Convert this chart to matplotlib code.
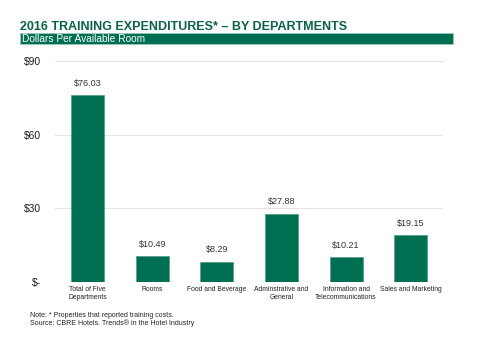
import matplotlib.pyplot as plt
from matplotlib.patches import Rectangle

plt.rcParams["font.family"] = ["Liberation Sans", "DejaVu Sans"]

# data
categories = ["Total of Five\nDepartments", "Rooms", "Food and Beverage",
              "Adminstrative and\nGeneral", "Information and\nTelecommunications",
              "Sales and Marketing"]
values = [76.03, 10.49, 8.29, 27.88, 10.21, 19.15]
yticks = [0, 30, 60, 90]
ytick_labels = ["$-", "$30", "$60", "$90"]

green = "#006f51"
title_green = "#0b6148"

fig = plt.figure(figsize=(4.8, 3.57), dpi=100)
fig.patch.set_facecolor("white")

# title and green band
fig.text(0.042, 0.917, "2016 TRAINING EXPENDITURES* \u2013 BY DEPARTMENTS",
         fontsize=9.0, fontweight="bold", color=title_green, ha="left", va="baseline")
fig.patches.append(Rectangle((0.042, 0.876), 0.902, 0.032, transform=fig.transFigure,
                             facecolor=green, edgecolor="#9fcfbf", linewidth=0.5))
fig.text(0.046, 0.881, "Dollars Per Available Room", fontsize=7.3, color="white",
         ha="left", va="baseline")

ax = fig.add_axes([0.115, 0.21, 0.808, 0.619])
x = range(len(categories))
bars = ax.bar(x, values, width=0.51, color=green, edgecolor="#4f9c82", linewidth=0.5, zorder=3)
for xi, v in zip(x, values):
    ax.text(xi, v + 3, f"${v:.2f}", ha="center", va="bottom", fontsize=6.5, color="#333333")

ax.set_ylim(0, 90)
ax.set_xlim(-0.5, len(categories) - 0.5)
ax.set_yticks(yticks)
ax.set_yticklabels(ytick_labels, fontsize=7.4, color="#1a1a1a")
ax.set_xticks(list(x))
ax.set_xticklabels(categories, fontsize=4.9, color="#222222", linespacing=1.25)
ax.tick_params(axis="both", length=0)
ax.tick_params(axis="y", pad=10)
ax.tick_params(axis="x", pad=3)
ax.grid(axis="y", color="#e3e3e3", linewidth=0.8, zorder=0)
for s in ax.spines.values():
    s.set_visible(False)

fig.text(0.062, 0.113, "Note: * Properties that reported training costs.", fontsize=5.0, color="#222222")
fig.text(0.062, 0.091, "Source: CBRE Hotels. Trends\u00ae in the Hotel Industry", fontsize=5.0, color="#222222")

fig.savefig("out.png", dpi=100)
